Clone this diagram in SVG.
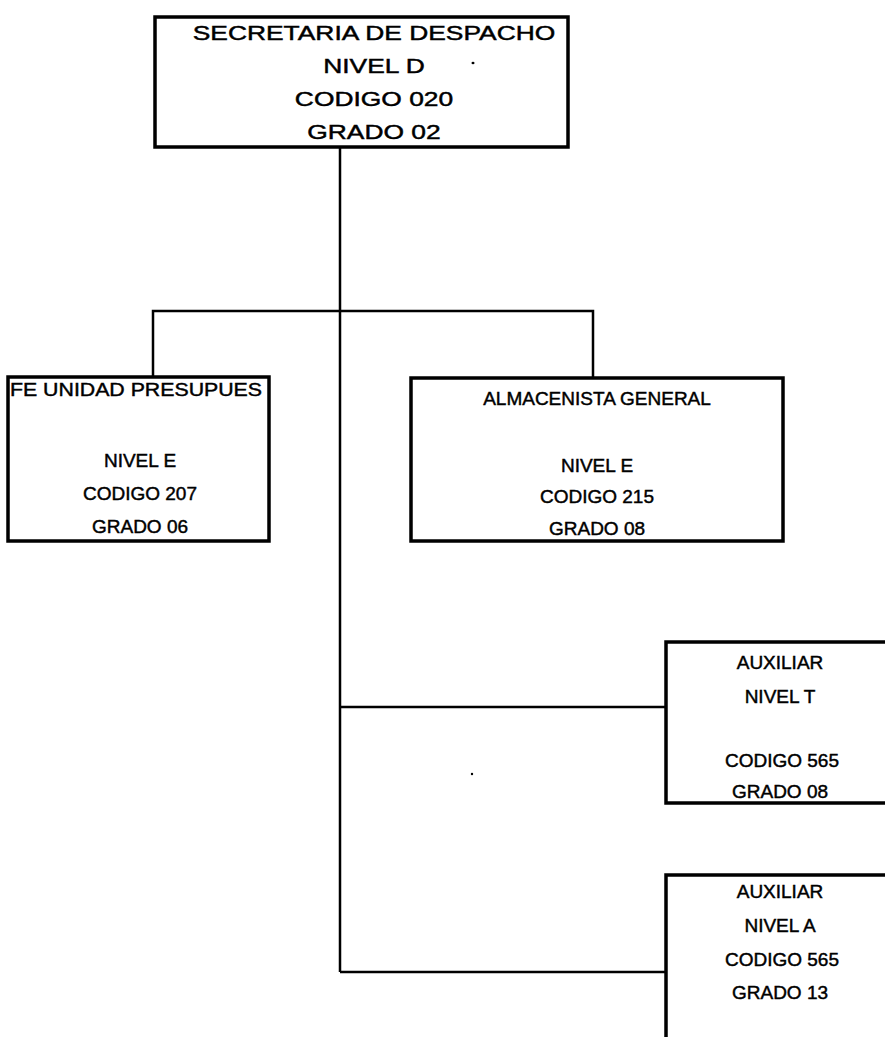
<svg xmlns="http://www.w3.org/2000/svg" width="885" height="1037" viewBox="0 0 885 1037">
<style>
.box{fill:#fff;stroke:#000;stroke-width:3.5}
.ln{fill:none;stroke:#000;stroke-width:2.5}
text{font-family:"Liberation Sans",Arial,sans-serif;fill:#000;stroke:#000;stroke-width:0.45;text-anchor:middle}
.t{font-size:19px}
.m{font-size:20px}
</style>
<rect width="885" height="1037" fill="#fff"/>
<g id="connectors">
<path class="ln" d="M340,147 V972"/>
<path class="ln" d="M153,377 V311 H593 V378" stroke-width="3"/>
<path class="ln" d="M340,707 H666"/>
<path class="ln" d="M340,972 H666"/>
</g>
<g id="secretaria">
<rect class="box" x="155" y="17" width="413" height="130"/>
<g transform="translate(374,0) scale(1.32,1)">
<text class="m" x="0" y="40">SECRETARIA DE DESPACHO</text>
<text class="m" x="0" y="73">NIVEL D</text>
<text class="m" x="0" y="106">CODIGO 020</text>
<text class="m" x="0" y="139">GRADO 02</text>
</g>
<ellipse cx="473" cy="63" rx="1.5" ry="1.2" fill="#000"/>
</g>
<g id="jefe-presupuesto">
<rect class="box" x="8" y="377" width="261" height="164"/>
<text class="t" x="136" y="396" textLength="252" lengthAdjust="spacingAndGlyphs">FE UNIDAD PRESUPUES</text>
<text class="t" x="140" y="467">NIVEL E</text>
<text class="t" x="140" y="500">CODIGO 207</text>
<text class="t" x="140" y="533">GRADO 06</text>
</g>
<g id="almacenista">
<rect class="box" x="411" y="378" width="372" height="163"/>
<text class="t" x="597" y="405">ALMACENISTA GENERAL</text>
<text class="t" x="597" y="472">NIVEL E</text>
<text class="t" x="597" y="503">CODIGO 215</text>
<text class="t" x="597" y="535">GRADO 08</text>
</g>
<g id="auxiliar-t">
<rect class="box" x="666" y="642" width="240" height="161"/>
<text class="t" x="780" y="669">AUXILIAR</text>
<text class="t" x="780" y="703">NIVEL T</text>
<text class="t" x="782" y="767">CODIGO 565</text>
<text class="t" x="780" y="798">GRADO 08</text>
</g>
<g id="auxiliar-a">
<rect class="box" x="666" y="875" width="240" height="180"/>
<text class="t" x="780" y="898">AUXILIAR</text>
<text class="t" x="780" y="932">NIVEL A</text>
<text class="t" x="782" y="966">CODIGO 565</text>
<text class="t" x="780" y="999">GRADO 13</text>
</g>
<ellipse cx="472" cy="774" rx="1.2" ry="1.2" fill="#000"/>
</svg>
